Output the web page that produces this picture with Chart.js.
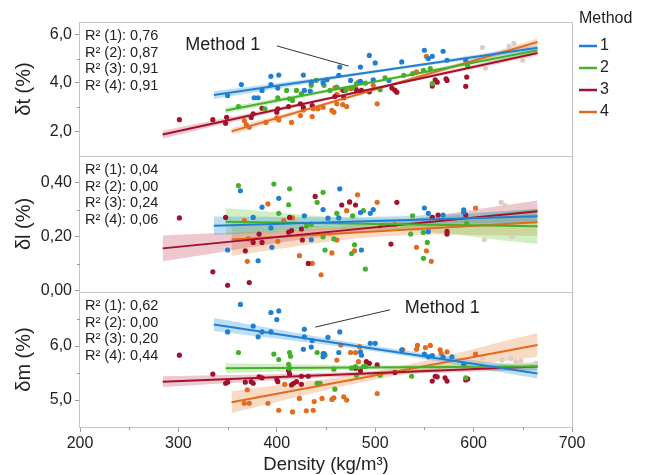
<!DOCTYPE html>
<html>
<head>
<meta charset="utf-8">
<title>Density vs. delta</title>
<script src="https://cdn.jsdelivr.net/npm/chart.js@4.4.0/dist/chart.umd.min.js"></script>
<style>
  body { margin: 0; background: #fff; }
  #wrap { position: relative; width: 646px; height: 475px; }
  #wrap canvas { position: absolute; left: 0; }
</style>
</head>
<body>
<div id="wrap">
  <canvas id="panelT" width="646" height="170" style="top:0"></canvas>
  <canvas id="panelL" width="646" height="162" style="top:143px"></canvas>
  <canvas id="panelM" width="646" height="196" style="top:279px"></canvas>
</div>
<script>
// methods and colours
var methods = ['1', '2', '3', '4'];
var methodColors = ['#1f7fd2', '#44b02b', '#a3122c', '#e36b1e'];
var bandColors = ['rgba(70,160,225,0.35)', 'rgba(110,205,70,0.32)', 'rgba(200,70,95,0.30)', 'rgba(235,140,70,0.32)'];
var fadedColor = '#dccfc2';

var densityTicks = [200, 300, 400, 500, 600, 700];
var densityMinor = [250, 350, 450, 550, 650];

// ---- δt ----
var tTicks = [2, 4, 6];
var tMinor = [3, 5];
var tR2 = ['0,76', '0,87', '0,91', '0,91'];
var tM1 = [[364,3.93],[350,3.48],[385,3.69],[377,3.39],[381,3.39],[394,4.27],[402,4.32],[394,3.93],[401,3.79],[427,4.32],[428,3.69],[435,4.03],[434,3.66],[447,4.01],[451,4.13],[464,4.65],[463,4.31],[475,4.10],[485,4.65],[485,4.06],[494,5.13],[500,4.82],[498,4.13],[514,4.10],[527,4.86],[550,5.34],[558,5.09],[569,5.30],[554,5.00],[573,4.93],[592,4.93]];
var tM2 = [[361,3.03],[388,2.94],[401,3.39],[410,3.69],[413,3.35],[416,3.28],[420,3.69],[425,3.55],[435,3.90],[440,4.10],[448,3.90],[454,3.69],[461,3.83],[470,3.70],[477,3.80],[481,3.97],[490,3.99],[505,3.72],[510,4.21],[529,4.31],[538,4.38],[549,4.52],[556,4.59],[558,3.97],[594,4.68]];
var tM3 = [[301,2.49],[335,2.49],[348,2.34],[349,2.59],[374,2.58],[376,2.73],[385,2.96],[400,2.80],[401,2.94],[412,3.03],[424,3.14],[427,3.00],[436,3.07],[459,3.44],[468,3.39],[468,3.69],[481,3.70],[486,3.69],[494,3.64],[517,3.79],[520,3.70],[522,3.62],[558,3.87],[561,4.13],[563,4.03],[572,4.17],[573,4.10],[593,4.24],[592,3.86]];
var tM4 = [[367,2.45],[369,2.29],[372,2.18],[389,2.38],[400,2.57],[402,2.48],[415,2.38],[424,2.66],[427,2.89],[436,2.62],[437,2.94],[442,2.94],[447,3.00],[456,2.87],[458,2.80],[461,3.14],[467,3.11],[471,3.03],[459,3.80],[466,3.73],[461,3.53],[475,3.76],[480,3.80],[483,4.03],[498,3.90],[502,3.14],[542,4.45],[552,5.09]];
var tFaded = [[609,5.45],[612,4.61],[636,5.50],[641,5.62],[650,4.93]];
var tFitX = [[336,665],[348,665],[284,665],[354,665]];
var tFitY = [[3.50,5.44],[2.87,5.34],[1.88,5.23],[2.01,5.68]];
var tBandX = [[336,500,665],[348,506,665],[284,474,665],[354,510,665]];
var tBandHi = [[3.66,4.53,5.56],[2.99,4.16,5.44],[2.04,3.61,5.33],[2.14,3.90,5.82]];
var tBandLo = [[3.34,4.41,5.32],[2.75,4.05,5.24],[1.72,3.50,5.13],[1.88,3.79,5.54]];
var tCalloutText = [307, 5.55];
var tCalloutLine = [[400, 5.52], [473, 4.69]];

// ---- δl ----
var lTicks = [0, 0.2, 0.4];
var lMinor = [0.1, 0.3];
var lR2 = ['0,04', '0,00', '0,24', '0,06'];
var lM1 = [[363,0.371],[402,0.343],[385,0.310],[376,0.272],[350,0.151],[381,0.111],[395,0.161],[394,0.233],[428,0.278],[435,0.189],[447,0.301],[452,0.269],[464,0.378],[463,0.270],[485,0.290],[486,0.151],[495,0.287],[498,0.301],[550,0.307],[554,0.287],[554,0.219],[569,0.281],[590,0.300],[590,0.291]];
var lM2 = [[361,0.390],[397,0.396],[413,0.378],[402,0.287],[412,0.319],[430,0.240],[441,0.328],[447,0.365],[435,0.247],[447,0.200],[458,0.192],[449,0.151],[461,0.287],[477,0.278],[479,0.170],[476,0.138],[490,0.080],[488,0.297],[538,0.278],[536,0.210],[549,0.216],[553,0.179],[549,0.120],[593,0.250]];
var lM3 = [[301,0.270],[335,0.070],[350,0.020],[372,0.030],[368,0.148],[348,0.272],[382,0.210],[376,0.179],[385,0.179],[413,0.272],[412,0.217],[415,0.223],[425,0.229],[426,0.188],[432,0.101],[439,0.350],[466,0.318],[474,0.330],[480,0.318],[522,0.328],[516,0.173],[558,0.272],[564,0.281],[592,0.281],[573,0.220],[573,0.210]];
var lM4 = [[391,0.322],[367,0.260],[370,0.109],[407,0.260],[416,0.270],[401,0.183],[371,0.192],[423,0.130],[436,0.101],[445,0.059],[456,0.140],[461,0.188],[474,0.328],[482,0.356],[471,0.297],[479,0.148],[502,0.328],[505,0.240],[520,0.245],[542,0.161],[552,0.148],[557,0.109],[602,0.307]];
var lFaded = [[611,0.189],[628,0.328],[632,0.316],[639,0.200],[648,0.310]];
var lFitX = [[336,665],[348,665],[284,665],[354,665]];
var lFitY = [[0.241,0.276],[0.256,0.239],[0.157,0.295],[0.190,0.254]];
var lBandX = [[336,500,665],[348,506,665],[284,474,665],[354,510,665]];
var lBandHi = [[0.275,0.274,0.301],[0.306,0.268,0.305],[0.205,0.241,0.335],[0.250,0.242,0.304]];
var lBandLo = [[0.207,0.244,0.251],[0.206,0.228,0.173],[0.109,0.211,0.255],[0.130,0.202,0.204]];

// ---- δm ----
var mTicks = [5, 6];
var mMinor = [5.5, 6.5];
var mR2 = ['0,62', '0,00', '0,20', '0,44'];
var mM1 = [[363,6.77],[350,6.26],[376,6.37],[381,6.17],[385,6.26],[394,6.62],[402,6.65],[400,6.49],[394,6.26],[428,6.31],[428,6.17],[427,5.94],[435,5.98],[436,6.10],[452,6.16],[464,6.26],[447,5.80],[448,5.86],[463,5.88],[485,5.89],[486,5.83],[495,6.05],[500,6.05],[527,5.93],[550,5.85],[554,5.80],[558,5.82],[569,5.80],[578,5.80],[590,5.66]];
var mM2 = [[361,5.88],[397,5.85],[402,5.75],[413,5.88],[414,5.81],[412,5.66],[413,5.59],[441,5.88],[447,5.86],[449,5.83],[441,5.31],[444,5.31],[459,5.20],[458,5.57],[476,5.59],[480,5.62],[481,5.46],[488,5.62],[490,5.62],[505,5.46],[537,5.44],[592,5.41]];
var mM3 = [[301,5.83],[335,5.48],[348,5.31],[350,5.33],[368,5.33],[374,5.34],[376,5.31],[382,5.43],[385,5.41],[400,5.38],[401,5.34],[412,5.54],[413,5.48],[415,5.28],[417,5.31],[420,5.34],[425,5.29],[425,5.44],[432,5.44],[480,5.59],[485,5.54],[491,5.71],[494,5.68],[502,5.65],[520,5.51],[558,5.35],[561,5.44],[563,5.43],[571,5.41],[573,5.35],[592,5.37],[594,5.39]];
var mM4 = [[370,5.19],[367,4.94],[372,4.94],[391,4.94],[402,4.81],[408,5.29],[416,4.78],[423,5.03],[430,4.80],[437,4.81],[438,4.97],[446,5.03],[456,5.01],[458,5.04],[468,5.06],[471,5.00],[461,5.74],[465,6.02],[475,5.88],[480,5.88],[483,5.71],[484,5.99],[502,5.12],[528,5.93],[543,6.01],[542,5.94],[551,5.97],[556,6.01],[566,5.93],[567,5.86],[573,5.89],[602,5.85]];
var mFaded = [[609,5.78],[629,5.74],[638,5.77],[643,5.71],[648,5.72],[663,5.68]];
var mFitX = [[336,665],[348,665],[284,665],[354,665]];
var mFitY = [[6.40,5.49],[5.59,5.62],[5.34,5.62],[4.96,6.02]];
var mBandX = [[336,500,665],[348,506,665],[284,474,665],[354,510,665]];
var mBandHi = [[6.52,6.00,5.58],[5.68,5.645,5.70],[5.44,5.52,5.68],[5.16,5.57,6.24]];
var mBandLo = [[6.28,5.90,5.40],[5.50,5.565,5.54],[5.24,5.44,5.56],[4.76,5.41,5.80]];
var mCalloutText = [530, 6.70];
var mCalloutLine = [[515, 6.67], [439, 6.35]];

var FONT = '"Liberation Sans", Arial, sans-serif';
Chart.defaults.font.family = FONT;
Chart.defaults.color = '#222';

function toXY(xs, ys) {
	return xs.map(function (x, i) { return { x: x, y: ys[i] }; });
}

function pairs(list) {
	return list.map(function (p) { return { x: p[0], y: p[1] }; });
}

function buildDatasets(points, faded, fitX, fitY, bandX, bandHi, bandLo) {
	var sets = [];
	methods.forEach(function (m, i) {
		sets.push({ data: toXY(bandX[i], bandHi[i]), fill: '+1', backgroundColor: bandColors[i],
			borderColor: 'transparent', borderWidth: 0, pointRadius: 0, tension: 0.4, order: 3 });
		sets.push({ data: toXY(bandX[i], bandLo[i]), fill: false,
			borderColor: 'transparent', borderWidth: 0, pointRadius: 0, tension: 0.4, order: 3 });
	});
	sets.push({ data: pairs(faded), showLine: false, pointRadius: 2.6, pointBorderWidth: 0,
		pointBackgroundColor: fadedColor, order: 2 });
	methods.forEach(function (m, i) {
		sets.push({ label: m, data: pairs(points[i]), showLine: false, pointRadius: 2.6, pointBorderWidth: 0,
			pointBackgroundColor: methodColors[i], order: 2 });
	});
	methods.forEach(function (m, i) {
		sets.push({ data: toXY(fitX[i], fitY[i]), borderColor: methodColors[i], borderWidth: 2,
			pointRadius: 0, fill: false, order: 1 });
	});
	return sets;
}

// frame, minor ticks, R² block, callout and the method key
var panelMarks = {
	id: 'panelMarks',
	afterDraw: function (chart, args, opts) {
		var ctx = chart.ctx;
		var a = chart.chartArea;
		var xs = chart.scales.x, ys = chart.scales.y;
		ctx.save();

		ctx.strokeStyle = '#c4c4c4';
		ctx.lineWidth = 1;
		ctx.strokeRect(a.left - 0.5, a.top + 0.5, a.right - a.left + 1, a.bottom - a.top);

		ctx.strokeStyle = '#9a9a9a';
		ctx.beginPath();
		opts.minorY.forEach(function (v) {
			var y = Math.round(ys.getPixelForValue(v)) + 0.5;
			ctx.moveTo(a.left - 3, y); ctx.lineTo(a.left, y);
		});
		if (opts.minorX) {
			opts.minorX.forEach(function (v) {
				var x = Math.round(xs.getPixelForValue(v)) + 0.5;
				ctx.moveTo(x, a.bottom); ctx.lineTo(x, a.bottom + 3);
			});
		}
		ctx.stroke();

		ctx.fillStyle = '#222';
		ctx.font = '14.5px ' + FONT;
		ctx.textAlign = 'left';
		ctx.textBaseline = 'middle';
		opts.r2.forEach(function (r, i) {
			ctx.fillText('R\u00b2 (' + methods[i] + '): ' + r, a.left + 5, a.top + 14 + i * 16.7);
		});

		if (opts.calloutText) {
			ctx.font = '18px ' + FONT;
			ctx.fillText('Method 1', xs.getPixelForValue(opts.calloutText[0]), ys.getPixelForValue(opts.calloutText[1]));
			ctx.strokeStyle = '#333';
			ctx.beginPath();
			ctx.moveTo(xs.getPixelForValue(opts.calloutLine[0][0]), ys.getPixelForValue(opts.calloutLine[0][1]));
			ctx.lineTo(xs.getPixelForValue(opts.calloutLine[1][0]), ys.getPixelForValue(opts.calloutLine[1][1]));
			ctx.stroke();
		}

		if (opts.key) {
			ctx.font = '16px ' + FONT;
			ctx.fillStyle = '#222';
			ctx.fillText('Method', 579, 19);
			methods.forEach(function (m, i) {
				var y = 46 + i * 22;
				ctx.strokeStyle = methodColors[i];
				ctx.lineWidth = 2.5;
				ctx.beginPath();
				ctx.moveTo(579, y); ctx.lineTo(597, y);
				ctx.stroke();
				ctx.fillText(m, 600, y);
			});
		}
		ctx.restore();
	}
};

function yAxis(title, min, max, ticks, dec) {
	return {
		type: 'linear', min: min, max: max,
		afterFit: function (s) { s.width = 80; },
		afterBuildTicks: function (s) { s.ticks = ticks.map(function (v) { return { value: v }; }); },
		ticks: { font: { size: 16 }, color: '#222', padding: 3,
			callback: function (v) { return Number(v).toFixed(dec).replace('.', ','); } },
		grid: { drawOnChartArea: false, tickLength: 5, color: '#9a9a9a' },
		border: { display: false },
		title: { display: true, text: title, font: { size: 20 }, color: '#222', padding: { top: 12, bottom: 0 } }
	};
}

function hiddenX() {
	return { type: 'linear', min: 200, max: 700, display: false };
}

function makePanel(id, datasets, scales, padding, marks) {
	return new Chart(document.getElementById(id), {
		type: 'line',
		data: { datasets: datasets },
		options: {
			responsive: false,
			animation: false,
			events: [],
			layout: { padding: padding },
			plugins: { legend: { display: false }, tooltip: { enabled: false }, panelMarks: marks },
			scales: scales
		},
		plugins: [panelMarks]
	});
}

makePanel('panelT',
	buildDatasets([tM1, tM2, tM3, tM4], tFaded, tFitX, tFitY, tBandX, tBandHi, tBandLo),
	{ x: hiddenX(), y: yAxis('δt (%)', 1.0, 6.5, tTicks, 1) },
	{ left: 0, right: 74, top: 22, bottom: 14 },
	{ minorY: tMinor, r2: tR2, calloutText: tCalloutText, calloutLine: tCalloutLine, key: true });

makePanel('panelL',
	buildDatasets([lM1, lM2, lM3, lM4], lFaded, lFitX, lFitY, lBandX, lBandHi, lBandLo),
	{ x: hiddenX(), y: yAxis('δl (%)', -0.005, 0.5, lTicks, 2) },
	{ left: 0, right: 74, top: 13, bottom: 13 },
	{ minorY: lMinor, r2: lR2 });

makePanel('panelM',
	buildDatasets([mM1, mM2, mM3, mM4], mFaded, mFitX, mFitY, mBandX, mBandHi, mBandLo),
	{
		x: {
			type: 'linear', min: 200, max: 700,
			afterFit: function (s) { s.height = 48; },
			afterBuildTicks: function (s) { s.ticks = densityTicks.map(function (v) { return { value: v }; }); },
			ticks: { font: { size: 16 }, color: '#222', padding: 2, maxRotation: 0 },
			grid: { drawOnChartArea: false, tickLength: 5, color: '#9a9a9a' },
			border: { display: false },
			title: { display: true, text: 'Density (kg/m³)', font: { size: 18.5, lineHeight: 1.1 }, color: '#222', padding: 0 }
		},
		y: yAxis('δm (%)', 4.5, 7.0, mTicks, 1)
	},
	{ left: 0, right: 74, top: 13, bottom: 0 },
	{ minorY: mMinor, minorX: densityMinor, r2: mR2, calloutText: mCalloutText, calloutLine: mCalloutLine });
</script>
</body>
</html>
